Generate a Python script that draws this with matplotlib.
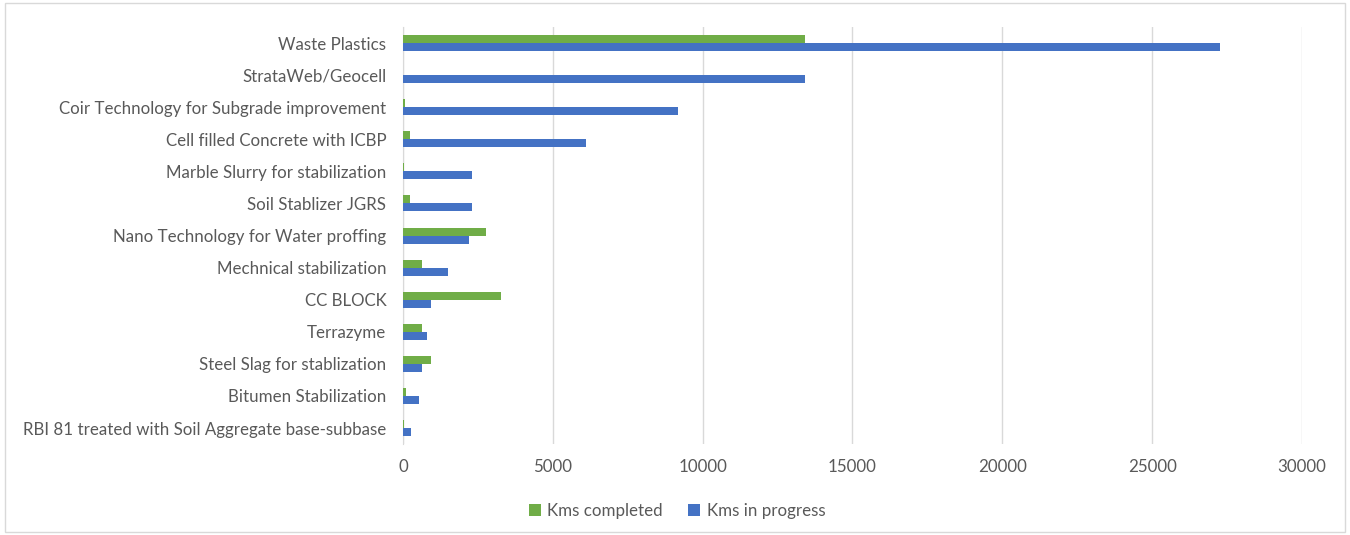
import numpy as np
import matplotlib.pyplot as plt
from matplotlib.patches import Rectangle

categories = [
    "Waste Plastics",
    "StrataWeb/Geocell",
    "Coir Technology for Subgrade improvement",
    "Cell filled Concrete with ICBP",
    "Marble Slurry for stabilization",
    "Soil Stablizer JGRS",
    "Nano Technology for Water proffing",
    "Mechnical stabilization",
    "CC BLOCK",
    "Terrazyme",
    "Steel Slag for stablization",
    "Bitumen Stabilization",
    "RBI 81 treated with Soil Aggregate base-subbase",
]
kms_completed = [13400, 0, 60, 230, 30, 250, 2760, 645, 3270, 620, 920, 100, 20]
kms_in_progress = [27270, 13420, 9170, 6100, 2320, 2320, 2210, 1510, 920, 800, 620, 530, 270]

plt.rcParams['font.family'] = ['Lato', 'DejaVu Sans']
text_col = '#595959'

fig = plt.figure(figsize=(13.5, 5.35), dpi=100)
ax = fig.add_axes([0.2985, 0.170, 0.6659, 0.7795])

y = np.arange(len(categories))
h = 0.25
ax.barh(y - h / 2, kms_completed, height=h, color='#70AD47', label='Kms completed', zorder=3)
ax.barh(y + h / 2, kms_in_progress, height=h, color='#4472C4', label='Kms in progress', zorder=3)

ax.set_ylim(len(categories) - 0.5, -0.5)
ax.set_xlim(0, 30000)
ax.set_xticks(range(0, 30001, 5000))
ax.set_yticks(y)
ax.set_yticklabels(categories)
ax.tick_params(axis='both', length=0, labelsize=12.2, colors=text_col)
ax.tick_params(axis='x', pad=11)
ax.tick_params(axis='y', pad=12)
ax.grid(axis='x', color='#D9D9D9', linewidth=1, zorder=0)
for s in ['top', 'right', 'bottom']:
    ax.spines[s].set_visible(False)
ax.spines['left'].set_color('#D9D9D9')

ax.legend(loc='upper center', bbox_to_anchor=(0.305, -0.105), ncol=2, frameon=False,
          fontsize=12.2, labelcolor=text_col, handlelength=0.7, handleheight=0.7,
          columnspacing=1.5, handletextpad=0.4)

fig.patches.append(Rectangle((0.004, 0.006), 0.992, 0.988, transform=fig.transFigure,
                             fill=False, edgecolor='#D9D9D9', linewidth=1))

fig.savefig('out.png', dpi=100)
